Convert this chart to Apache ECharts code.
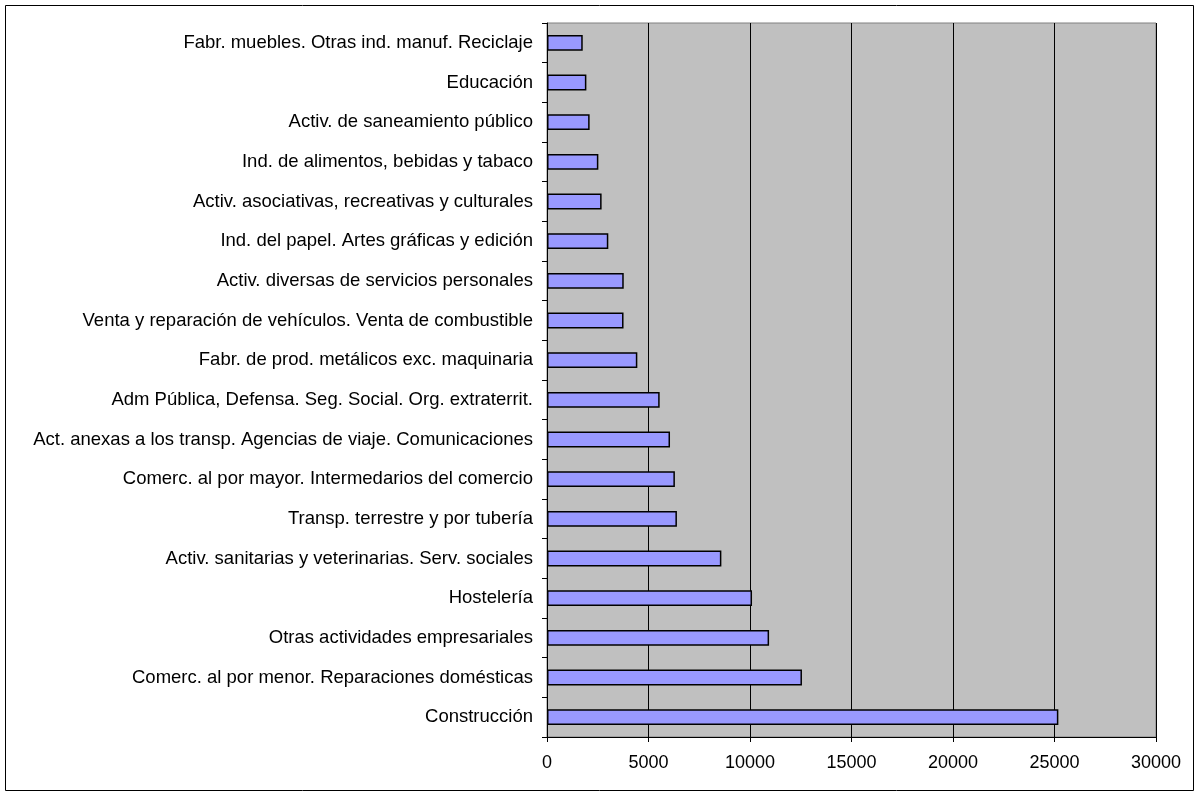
<!DOCTYPE html>
<html>
<head>
<meta charset="utf-8">
<script src="https://cdn.jsdelivr.net/npm/echarts@6/dist/echarts.min.js"></script>
<style>
html,body{margin:0;padding:0;background:#fff;}
#chart{width:1200px;height:796px;}
</style>
</head>
<body>
<div id="chart"></div>
<script>
const categories = [
  "Fabr. muebles. Otras ind. manuf. Reciclaje",
  "Educación",
  "Activ. de saneamiento público",
  "Ind. de alimentos, bebidas y tabaco",
  "Activ. asociativas, recreativas y culturales",
  "Ind. del papel. Artes gráficas y edición",
  "Activ. diversas de servicios personales",
  "Venta y reparación de vehículos. Venta de combustible",
  "Fabr. de prod. metálicos exc. maquinaria",
  "Adm Pública, Defensa. Seg. Social. Org. extraterrit.",
  "Act. anexas a los transp. Agencias de viaje. Comunicaciones",
  "Comerc. al por mayor. Intermedarios del comercio",
  "Transp. terrestre y por tubería",
  "Activ. sanitarias y veterinarias. Serv. sociales",
  "Hostelería",
  "Otras actividades empresariales",
  "Comerc. al por menor. Reparaciones domésticas",
  "Construcción"
];
const values = [1760, 1940, 2100, 2530, 2690, 3020, 3780, 3770, 4450, 5550, 6060, 6300, 6400, 8590, 10100, 10940, 12560, 25190];
const xMin = 0, xMax = 30000, xStep = 5000;

const chart = echarts.init(document.getElementById('chart'), null, {renderer: 'canvas'});
const font = 'Arial, "Liberation Sans", sans-serif';
chart.setOption({
  animation: false,
  backgroundColor: '#ffffff',
  graphic: [{
    type: 'rect',
    shape: {x: 5.5, y: 5.5, width: 1188, height: 785},
    style: {fill: 'none', stroke: '#000', lineWidth: 1},
    silent: true
  }],
  grid: {
    left: 547, right: 44, top: 23, bottom: 59,
    show: true, backgroundColor: '#C0C0C0', borderColor: '#808080', borderWidth: 1,
    containLabel: false
  },
  xAxis: {
    type: 'value', min: xMin, max: xMax, interval: xStep,
    axisLine: {show: true, lineStyle: {color: '#000', width: 1}},
    axisTick: {show: true, length: 5, lineStyle: {color: '#000'}},
    axisLabel: {color: '#000', fontSize: 18, fontFamily: font, margin: 17,
      formatter: function (v) { return String(v); }},
    splitLine: {show: true, lineStyle: {color: '#000', width: 1}}
  },
  yAxis: {
    type: 'category', data: categories, inverse: true,
    axisLine: {show: true, lineStyle: {color: '#000', width: 1}},
    axisTick: {show: true, length: 5, lineStyle: {color: '#000'}},
    axisLabel: {color: '#000', fontSize: 18.5, fontFamily: font, margin: 14},
    splitLine: {show: false}
  },
  series: [{
    type: 'bar', data: values, barWidth: '40%',
    itemStyle: {color: '#9999FF', borderColor: '#000', borderWidth: 1.5}
  }]
});
</script>
</body>
</html>
